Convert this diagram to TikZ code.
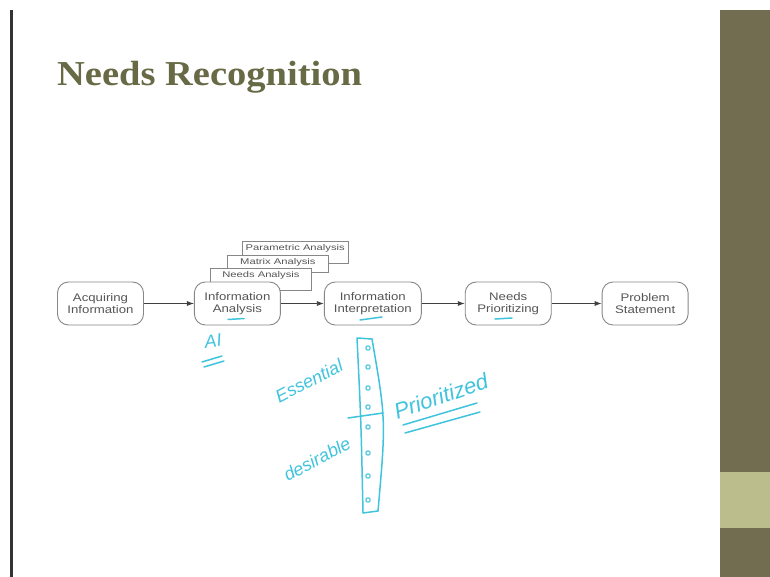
\documentclass[tikz,border=0pt]{standalone}
\usepackage{fontspec}
\setmainfont{Liberation Sans}
\newfontfamily\titlefont[FakeStretch=1.1]{Liberation Serif}
\newfontfamily\boxfont[FakeStretch=1.2]{Liberation Sans}
\newfontfamily\tabfont[FakeStretch=1.35]{Liberation Sans}
\usetikzlibrary{arrows.meta}
\usetikzlibrary{positioning}

\definecolor{slideolive}{RGB}{114,108,80}
\definecolor{slidelight}{RGB}{188,189,140}
\definecolor{titleolive}{RGB}{104,106,70}
\definecolor{inkcyan}{RGB}{64,196,222}
\definecolor{boxgray}{RGB}{135,135,135}
\definecolor{textgray}{RGB}{85,85,85}

\tikzset{
  procbox/.style={draw=boxgray, line width=0.9pt, fill=white, rounded corners=11pt,
    minimum width=86pt, minimum height=43pt, align=center, text=textgray,
    font=\boxfont\fontsize{11}{12.5}\selectfont, inner sep=2pt},
  tabbox/.style={draw=boxgray, line width=0.8pt, fill=white, anchor=north west,
    minimum width=101pt, text=textgray, font=\tabfont\fontsize{8.3}{9}\selectfont,
    text height=6pt, text depth=9pt, inner ysep=3.5pt},
  flowarrow/.style={draw=black!75, line width=0.8pt, -{Latex[length=7pt,width=5pt]}},
  ink/.style={draw=inkcyan, line width=1.5pt, line cap=round, line join=round},
  inktext/.style={text=inkcyan, font=\itshape\fontsize{18}{20}\selectfont, inner sep=0pt}
}

\begin{document}
\begin{tikzpicture}[x=1pt,y=-1pt]
\useasboundingbox (0,0) rectangle (770,577);
\fill[white] (0,0) rectangle (770,577);

% slide frame
\fill[slideolive] (720,10) rectangle (770,577);
\fill[slidelight] (720,472) rectangle (770,528);
\draw[black!80,line width=2.2pt] (11.5,10) -- (11.5,577);

\node[anchor=base west, text=titleolive, inner sep=0pt,
  font=\titlefont\bfseries\fontsize{35}{40}\selectfont] (title) at (57,86) {Needs Recognition};

% stacked analysis sheets
\node[tabbox] (param) at (242,241) {Parametric Analysis};
\node[tabbox, text depth=4pt] (matrix) at (227,255) {Matrix Analysis};
\node[tabbox] (needsan) at (210,268) {Needs Analysis};

% process row
\node[procbox] (acq) at (100.5,303.5) {Acquiring\\Information};
\node[procbox, right=50pt of acq] (infoan) {Information\\Analysis};
\node[procbox, minimum width=97pt, right=43pt of infoan] (interp) {Information\\Interpretation};
\node[procbox, right=43pt of interp] (prio) {Needs\\Prioritizing};
\node[procbox, right=50pt of prio] (probst) {Problem\\Statement};

\draw[flowarrow] (acq) -- (infoan);
\draw[flowarrow] (infoan) -- (interp);
\draw[flowarrow] (interp) -- (prio);
\draw[flowarrow] (prio) -- (probst);

% handwritten notes
\draw[ink] (228,319.5) -- (244,318.5);
\draw[ink] (360,320) -- (382,317);
\draw[ink] (495,319) -- (512,318);

\node[inktext, rotate=8] (ai) at (213,341) {AI};
\draw[ink] (202,362) -- (222,356);
\draw[ink] (204,367) -- (224,361);

\draw[ink] (357,338) -- (372,339) .. controls (386,420) .. (378,511)
  -- (363,513) .. controls (361,420) .. (357,338) -- cycle;
\foreach \y in {348,367,388,407,427,453,476,500}
  \draw[ink, line width=1.1pt] (368,\y) circle (2.2);
\draw[ink] (348,418) -- (383,413);

\node[inktext, rotate=27] (essent) at (309,381) {Essential};
\node[inktext, rotate=28] (desir) at (317,459) {desirable};
\node[inktext, rotate=19, font=\itshape\fontsize{22}{24}\selectfont] (priorit) at (441,396) {Prioritized};
\draw[ink] (403,425) -- (477,403);
\draw[ink] (405,433) -- (480,412);

\end{tikzpicture}
\end{document}
